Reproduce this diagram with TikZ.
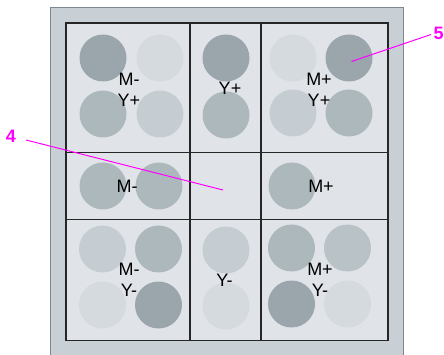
\documentclass[tikz,border=0pt]{standalone}
\usepackage{fontspec}
\setmainfont{Liberation Sans}
\definecolor{framefill}{HTML}{C8CFD5}
\definecolor{frameline}{HTML}{7F8890}
\definecolor{cellfill}{HTML}{E0E4E8}
\definecolor{cA}{HTML}{9AA5AC}
\definecolor{cB}{HTML}{ADB8BD}
\definecolor{cC}{HTML}{C5CDD3}
\definecolor{cD}{HTML}{D5DADF}
\definecolor{cE}{HTML}{B9C2C7}
\definecolor{callout}{HTML}{FF00FF}
\tikzset{
  dot/.style={circle,minimum size=47pt,inner sep=0pt,fill=#1,draw=none},
  lbl/.style={font=\fontsize{18}{21}\selectfont,align=center,inner sep=0pt,text=black},
  num/.style={font=\fontsize{18}{21}\selectfont\bfseries,text=callout,inner sep=0pt},
  gridline/.style={draw=black!85,line width=1.3pt},
  leader/.style={draw=callout,line width=1pt}
}
\begin{document}
\begin{tikzpicture}[x=1pt,y=-1pt]
\useasboundingbox (0,0) rectangle (444,355);
% outer frame
\path[fill=framefill,draw=frameline,line width=1pt] (50.5,7.5) rectangle (403.5,360);
% inner cells
\path[fill=cellfill] (66,23) rectangle (388,340.5);
% circles top row
\node[dot=cA] (c1) at (103,58) {};
\node[dot=cD] (c2) at (160,58) {};
\node[dot=cB] (c3) at (103,114) {};
\node[dot=cC] (c4) at (160,114) {};
\node[dot=cA] (c5) at (226,58) {};
\node[dot=cB] (c6) at (226,115) {};
\node[dot=cD] (c7) at (293,58) {};
\node[dot=cA] (c8) at (349,58) {};
\node[dot=cC] (c9) at (293,113) {};
\node[dot=cB] (c10) at (349,113) {};
% middle row
\node[dot=cB] (c11) at (103,186) {};
\node[dot=cB] (c12) at (159,186) {};
\node[dot=cB] (c13) at (292,186) {};
% bottom row
\node[dot=cC] (c14) at (102.5,249) {};
\node[dot=cB] (c15) at (158.5,249) {};
\node[dot=cD] (c16) at (102.5,305) {};
\node[dot=cA] (c17) at (158.5,305) {};
\node[dot=cC] (c18) at (226,250) {};
\node[dot=cD] (c19) at (226,306) {};
\node[dot=cB] (c20) at (291.5,248) {};
\node[dot=cE] (c21) at (347.5,248) {};
\node[dot=cA] (c22) at (291.5,304) {};
\node[dot=cD] (c23) at (347.5,304) {};
% grid lines
\draw[gridline] (66,23) rectangle (388,340.5);
\draw[gridline] (190,23) -- (190,340.5);
\draw[gridline] (261,23) -- (261,340.5);
\draw[gridline] (66,152.5) -- (388,152.5);
\draw[gridline] (66,219.5) -- (388,219.5);
% labels
\node[lbl] (t1) at (129,90) {M-\\Y+};
\node[lbl] (t2) at (230,88) {Y+};
\node[lbl] (t3) at (319,90) {M+\\Y+};
\node[lbl] (t4) at (127,186) {M-};
\node[lbl] (t5) at (321,186) {M+};
\node[lbl] (t6) at (129,279.5) {M-\\Y-};
\node[lbl] (t7) at (224.5,280) {Y-};
\node[lbl] (t8) at (320,279.5) {M+\\Y-};
% callouts
\coordinate (p5) at (351.5,61.5);
\coordinate (p4) at (223,190);
\node[num] (n5) at (438.5,33.5) {5};
\node[num] (n4) at (11,136.5) {4};
\draw[leader] (p5) -- (431,34.5);
\draw[leader] (26,140) -- (p4);
\end{tikzpicture}
\end{document}
